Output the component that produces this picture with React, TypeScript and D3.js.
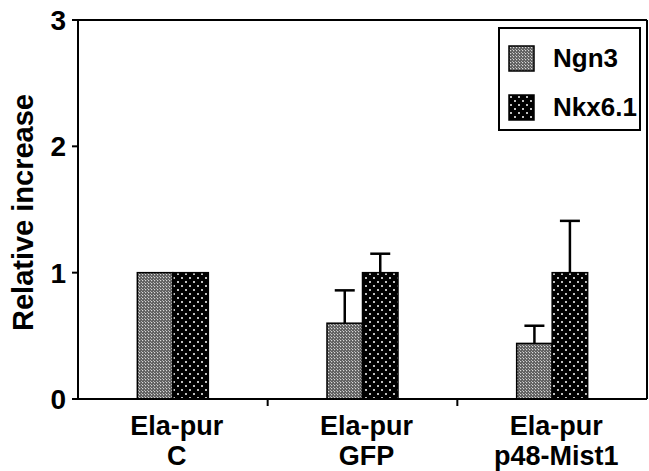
import React from "react";
import * as d3 from "d3";

const categories = ["Ela-pur\nC", "Ela-pur\nGFP", "Ela-pur\np48-Mist1"];
const seriesNames = ["Ngn3", "Nkx6.1"];
const ngn3Values = [1.0, 0.6, 0.44];
const ngn3Errors = [0, 0.26, 0.14];
const nkxValues = [1.0, 1.0, 1.0];
const nkxErrors = [0, 0.15, 0.41];
const yTicks = [0, 1, 2, 3];

const W = 649;
const H = 471;
const M = { left: 78, right: 647, top: 20, bottom: 399 };
const FONT = "'Liberation Sans', Arial, Helvetica, sans-serif";

export default function App() {
  const x0 = d3.scaleBand<string>().domain(categories).range([M.left, M.right]).padding(0);
  const groupW = 71;
  const x1 = d3.scaleBand<string>().domain(seriesNames).range([0, groupW]).padding(0);
  const y = d3.scaleLinear().domain([0, 3]).range([M.bottom, M.top]);

  const series = [
    { name: "Ngn3", values: ngn3Values, errors: ngn3Errors, fill: "url(#patNgn3)" },
    { name: "Nkx6.1", values: nkxValues, errors: nkxErrors, fill: "url(#patNkx)" },
  ];

  const sep = categories.slice(1).map((c) => x0(c)!);

  return (
    <svg width={W} height={H} style={{ position: "absolute", left: 0, top: 0 }}>
      <defs>
        <pattern id="patNgn3" width="3" height="3" patternUnits="userSpaceOnUse">
          <rect width="3" height="3" fill="#5e5e5e" />
          <rect x="1" y="1" width="1.2" height="1.2" fill="#d8d8d8" />
          <rect x="0" y="0" width="1" height="1" fill="#b0b0b0" />
        </pattern>
        <pattern id="patNkx" width="8" height="8" patternUnits="userSpaceOnUse">
          <rect width="8" height="8" fill="#000" />
          <circle cx="2" cy="2" r="1" fill="#fff" />
          <circle cx="6" cy="6" r="1" fill="#fff" />
        </pattern>
      </defs>
      <rect width={W} height={H} fill="#fff" />

      {/* bars */}
      {series.map((s) =>
        categories.map((c, i) => {
          const cx = x0(c)! + x0.bandwidth() / 2;
          const bx = cx - groupW / 2 + x1(s.name)!;
          const bw = x1.bandwidth();
          const top = y(s.values[i]);
          const errTop = y(s.values[i] + s.errors[i]);
          const mid = bx + bw / 2;
          return (
            <g key={s.name + c}>
              <rect x={bx} y={top} width={bw} height={M.bottom - top} fill={s.fill} stroke="#000" strokeWidth={1.5} />
              {s.errors[i] > 0 && (
                <g stroke="#000" strokeWidth={2.5}>
                  <line x1={mid} x2={mid} y1={top} y2={errTop} />
                  <line x1={mid - 10} x2={mid + 10} y1={errTop} y2={errTop} />
                </g>
              )}
            </g>
          );
        })
      )}

      {/* frame / axes */}
      <g stroke="#000" strokeWidth={2} fill="none">
        <line x1={M.left} x2={M.left} y1={M.top} y2={M.bottom} />
        <line x1={M.left} x2={M.right} y1={M.bottom} y2={M.bottom} />
        <line x1={M.left} x2={M.right} y1={M.top} y2={M.top} />
        <line x1={M.right} x2={M.right} y1={M.top} y2={M.bottom} />
        {yTicks.map((t) => (
          <line key={t} x1={M.left - 6} x2={M.left} y1={y(t)} y2={y(t)} />
        ))}
        {sep.map((sx, i) => (
          <line key={i} x1={sx} x2={sx} y1={M.bottom} y2={M.bottom + 7} />
        ))}
      </g>

      {/* y tick labels */}
      {yTicks.map((t) => (
        <text key={t} x={M.left - 12} y={y(t)} dy="0.36em" textAnchor="end" fontFamily={FONT} fontWeight="bold" fontSize={28} fill="#000">
          {t}
        </text>
      ))}

      {/* y title */}
      <text transform={`translate(33, ${(M.top + M.bottom) / 2 + 3}) rotate(-90)`} textAnchor="middle" fontFamily={FONT} fontWeight="bold" fontSize={29} fill="#000">
        Relative increase
      </text>

      {/* x labels */}
      {categories.map((c) => {
        const cx = x0(c)! + x0.bandwidth() / 2 + 4;
        const lines = c.split("\n");
        return (
          <g key={c}>
            {lines.map((l, j) => (
              <text key={j} x={cx} y={M.bottom + 36 + j * 30} textAnchor="middle" fontFamily={FONT} fontWeight="bold" fontSize={27} fill="#000">
                {l}
              </text>
            ))}
          </g>
        );
      })}

      {/* legend */}
      <rect x={499} y={28} width={141} height={102} fill="#fff" stroke="#000" strokeWidth={2} />
      {series.map((s, i) => (
        <g key={s.name} transform={`translate(509, ${46 + i * 49})`}>
          <rect width={25} height={25} fill={s.fill} stroke="#000" strokeWidth={1.5} />
          <text x={44} y={21} fontFamily={FONT} fontWeight="bold" fontSize={26} fill="#000">
            {s.name}
          </text>
        </g>
      ))}
    </svg>
  );
}
